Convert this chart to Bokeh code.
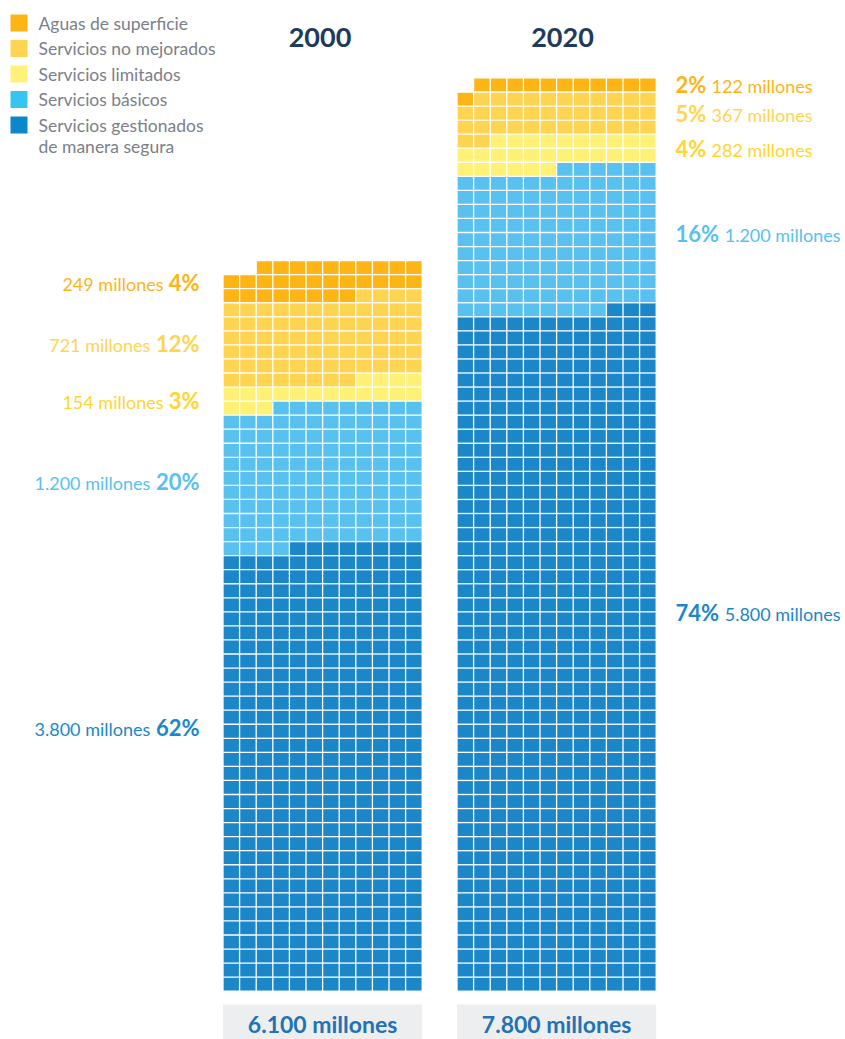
from bokeh.plotting import figure
from bokeh.models import Range1d, ColumnDataSource
from bokeh.core.properties import value
from bokeh.embed import file_html
from bokeh.resources import INLINE

# ---------------- data ----------------
categories = ["Aguas de superficie", "Servicios no mejorados", "Servicios limitados",
              "Servicios básicos", "Servicios gestionados de manera segura"]
years = ["2000", "2020"]
totals = ["6.100 millones", "7.800 millones"]
cells_2000 = [30, 72, 19, 121, 380]      # squares per category (top -> bottom)
cells_2020 = [12, 37, 28, 123, 579]
millones_2000 = ["249", "721", "154", "1.200", "3.800"]
millones_2020 = ["122", "367", "282", "1.200", "5.800"]
pct_2000 = [4, 12, 3, 20, 62]
pct_2020 = [2, 5, 4, 16, 74]

# ---------------- style ----------------
cell_colors = ["#FDB515", "#FFD451", "#FFF176", "#58C1EF", "#1B87C9"]
legend_colors = ["#FDB515", "#FFD451", "#FFF27A", "#35C5F0", "#0A88CA"]
label_colors = ["#FDB515", "#FFD451", "#FFD52E", "#58C1EF", "#1B87C9"]
FONT = value("Lato")

W, H = 845, 1039
p = figure(width=W, height=H, x_range=Range1d(0, W), y_range=Range1d(H, 0),
           output_backend="svg", toolbar_location=None,
           x_axis_location=None, y_axis_location=None,
           min_border_left=0, min_border_right=0, min_border_top=0, min_border_bottom=0)
p.grid.visible = False
p.outline_line_color = None
p.background_fill_color = "white"
p.border_fill_color = "white"

NCOL = 12
PW, PH = 16.6, 14.05
GAP = 1.3
BOTTOM = 990.7
col_x0 = [222.5, 456.5]


def waffle(counts, x0):
    xs, ys, cs = [], [], []
    i = 0
    for k in reversed(range(len(counts))):
        for _ in range(counts[k]):
            r, c = divmod(i, NCOL)
            col = NCOL - 1 - c
            xs.append(x0 + (col + 0.5) * PW)
            ys.append(BOTTOM - (r + 0.5) * PH)
            cs.append(cell_colors[k])
            i += 1
    return dict(x=xs, y=ys, c=cs)


for counts, x0 in zip([cells_2000, cells_2020], col_x0):
    src = ColumnDataSource(waffle(counts, x0))
    p.rect(x="x", y="y", width=PW - GAP, height=PH - GAP, fill_color="c",
           line_color=None, source=src)

# year titles
p.text(x=[319.5, 562], y=[37, 37], text=years,
       text_font=FONT, text_font_size="27px", text_font_style="bold",
       text_color="#1E3A5C", text_align="center", text_baseline="middle")

# total boxes
p.quad(left=[x0 for x0 in col_x0], right=[x0 + NCOL * PW for x0 in col_x0],
       top=[1004, 1004], bottom=[H, H], fill_color="#EDEEF0", line_color=None)
p.text(x=[x0 + NCOL * PW / 2 for x0 in col_x0], y=[1023, 1023], text=totals,
       text_font=FONT, text_font_size="23px", text_font_style="bold",
       text_color="#2272B4", text_align="center", text_baseline="middle")

# legend
leg_y = [22.5, 48, 73.5, 99, 124.5]
p.rect(x=[18.5] * 5, y=leg_y, width=17, height=17, fill_color=legend_colors, line_color=None)
leg_text = ["Aguas de superficie", "Servicios no mejorados", "Servicios limitados",
            "Servicios básicos", "Servicios gestionados", "de manera segura"]
p.text(x=[38] * 6, y=leg_y + [145.5], text=leg_text, text_font=FONT,
       text_font_size="17.5px", text_color="#7B8089", text_align="left",
       text_baseline="middle")

# value labels
PCT_SIZE = 22


def pct_w(s):
    return PCT_SIZE * (0.6 * (len(s) - 1) + 0.9)


mid_2000 = [282, 343, 400, 481, 727]
mid_2020 = [84, 113, 148, 233, 612]

pct_s = [f"{v}%" for v in pct_2000]
p.text(x=[199] * 5, y=mid_2000, text=pct_s, text_font=FONT,
       text_font_size=f"{PCT_SIZE}px", text_font_style="bold", text_color=label_colors,
       text_align="right", text_baseline="middle")
p.text(x=[199 - pct_w(s) - 3 for s in pct_s], y=[m + 1 for m in mid_2000],
       text=[f"{m} millones" for m in millones_2000], text_font=FONT,
       text_font_size="18px", text_color=label_colors,
       text_align="right", text_baseline="middle")

pct_s = [f"{v}%" for v in pct_2020]
p.text(x=[675] * 5, y=mid_2020, text=pct_s, text_font=FONT,
       text_font_size=f"{PCT_SIZE}px", text_font_style="bold", text_color=label_colors,
       text_align="left", text_baseline="middle")
p.text(x=[675 + pct_w(s) + 3 for s in pct_s], y=[m + 1 for m in mid_2020],
       text=[f"{m} millones" for m in millones_2020], text_font=FONT,
       text_font_size="18px", text_color=label_colors,
       text_align="left", text_baseline="middle")

open("out.html", "w").write(file_html(p, INLINE))
